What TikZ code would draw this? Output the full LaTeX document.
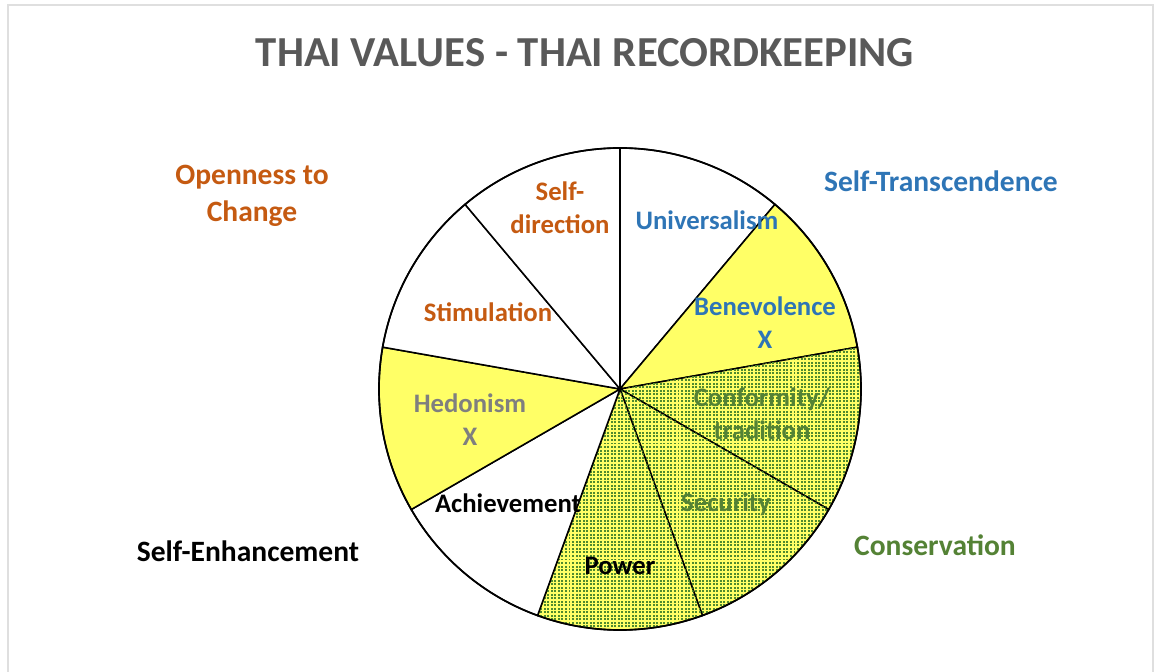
\documentclass[tikz,border=0pt]{standalone}
\usepackage{fontspec}
\setmainfont{Carlito}
\usetikzlibrary{patterns.meta}

\definecolor{valorange}{HTML}{C55A11}
\definecolor{valblue}{HTML}{2E75B6}
\definecolor{valgreen}{HTML}{548235}
\definecolor{valgray}{HTML}{7F7F7F}
\definecolor{titlegray}{HTML}{595959}
\definecolor{pieyellow}{HTML}{FFFF66}
\definecolor{dotgreen}{HTML}{4E8A2E}

\tikzdeclarepattern{
  name=finedots,
  type=uncolored,
  bounding box={(-1.25pt,-1.25pt) and (1.25pt,1.25pt)},
  tile size={(2.5pt,2.5pt)},
  code={\pgfpathrectangle{\pgfpoint{-0.7pt}{-0.7pt}}{\pgfpoint{1.4pt}{1.4pt}}\pgfusepath{fill}}
}

\begin{document}
\begin{tikzpicture}[
    x=0.025cm, y=0.025cm,
    label/.style={font=\fontsize{19}{23.5}\selectfont\bfseries, align=center, inner sep=0pt},
    group/.style={font=\fontsize{21}{26.3}\selectfont\bfseries, align=center, inner sep=0pt},
    heading/.style={font=\fontsize{30.4}{36}\selectfont\bfseries, text=titlegray, inner sep=0pt},
    slice/.style={draw=black, line width=1.1pt},
    plain/.style={slice, fill=white},
    marked/.style={slice, fill=pieyellow},
    dotted/.style={slice, fill=pieyellow, postaction={pattern={finedots}, pattern color=dotgreen}}
]
\useasboundingbox (0,0) rectangle (1160,672);
\draw[gray!25, line width=1pt] (8,0) -- (8,667) -- (1153,667) -- (1153,0);

% Pie
\coordinate (c) at (620,283);
\path [plain] (c) -- ++(50:241) arc[start angle=50, end angle=90, radius=241] -- cycle;
\path [marked] (c) -- ++(10:241) arc[start angle=10, end angle=50, radius=241] -- cycle;
\path [dotted] (c) -- ++(-30:241) arc[start angle=-30, end angle=10, radius=241] -- cycle;
\path [dotted] (c) -- ++(-70:241) arc[start angle=-70, end angle=-30, radius=241] -- cycle;
\path [dotted] (c) -- ++(-110:241) arc[start angle=-110, end angle=-70, radius=241] -- cycle;
\path [plain] (c) -- ++(-150:241) arc[start angle=-150, end angle=-110, radius=241] -- cycle;
\path [marked] (c) -- ++(170:241) arc[start angle=170, end angle=210, radius=241] -- cycle;
\path [plain] (c) -- ++(130:241) arc[start angle=130, end angle=170, radius=241] -- cycle;
\path [plain] (c) -- ++(90:241) arc[start angle=90, end angle=130, radius=241] -- cycle;
\draw [line width=1.2pt] (c) circle (241);

% Title
\node [heading] (title) at (585,619) {THAI VALUES - THAI RECORDKEEPING};

% Slice labels
\node [label, text=valorange] (selfdir) at (560,464) {Self-\\direction};
\node [label, text=valblue] (univ) at (707,452) {Universalism};
\node [label, text=valblue] (benev) at (765,349) {Benevolence\\X};
\node [label, text=valgreen] (conform) at (762,258) {Conformity/\\tradition};
\node [label, text=valgreen] (security) at (726,168) {Security};
\node [label, text=black] (power) at (620,106) {Power};
\node [label, text=black] (achieve) at (508,169) {Achievement};
\node [label, text=valgray] (hedon) at (470,252) {Hedonism\\X};
\node [label, text=valorange] (stimul) at (488,360) {Stimulation};

% Higher order values
\node [group, text=valorange] (openness) at (252,476) {Openness to\\Change};
\node [group, text=valblue] (selftrans) at (941,491) {Self-Transcendence};
\node [group, text=black] (selfenh) at (248,121) {Self-Enhancement};
\node [group, text=valgreen] (conserv) at (935,127) {Conservation};

\end{tikzpicture}
\end{document}
